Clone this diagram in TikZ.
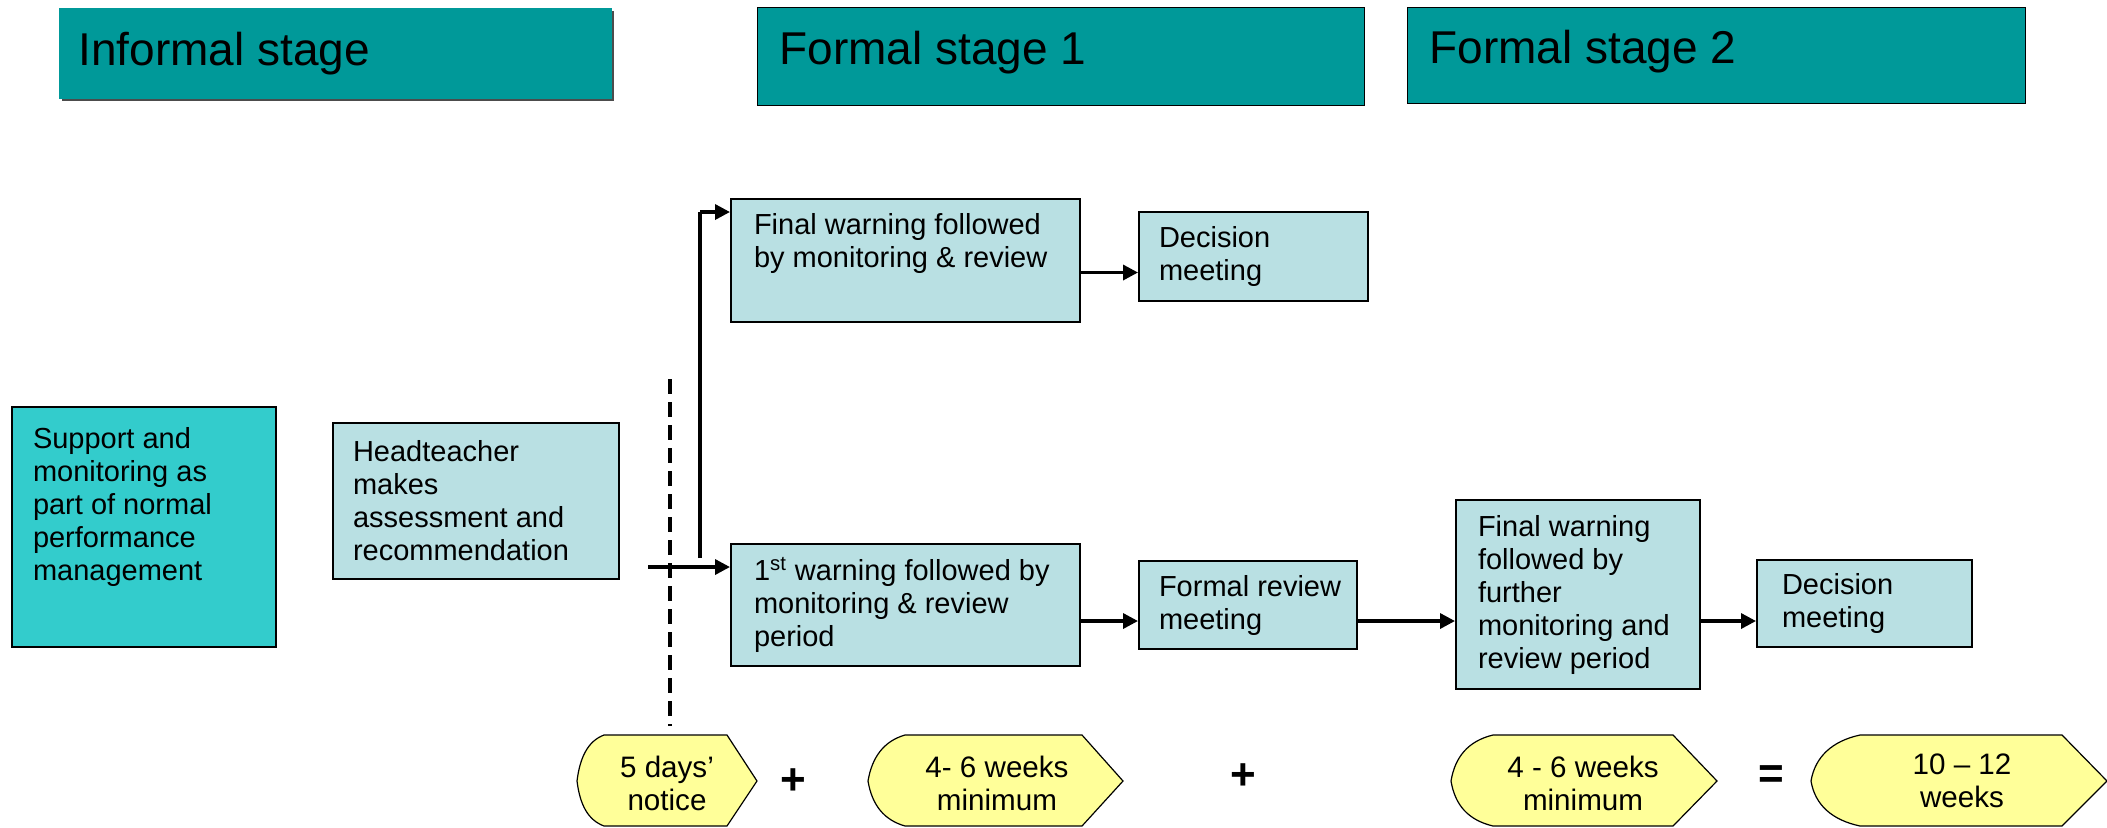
\documentclass[tikz,border=0pt]{standalone}
\usepackage{fontspec}
\setmainfont{Liberation Sans}
\usetikzlibrary{calc,arrows.meta}
\definecolor{hdr}{HTML}{009999}
\definecolor{supc}{HTML}{33CCCC}
\definecolor{ltc}{HTML}{B9E0E3}
\definecolor{yel}{HTML}{FFFF99}
% width, height, inner position, left pad, text
\newcommand\bxt[5]{\begin{minipage}[c][#2][#3]{#1}\raggedright\leftskip=#4\relax #5\end{minipage}}
\begin{document}
\begin{tikzpicture}[x=0.5pt,y=-0.5pt,
  hdrbox/.style={draw=black, line width=0.6pt, fill=hdr, anchor=north west, inner sep=0pt,
     font=\fontsize{23}{27}\selectfont},
  lbox/.style={draw=black, line width=1pt, fill=ltc, anchor=north west, inner sep=0pt,
     font=\fontsize{14.5}{16.5}\selectfont},
  arr/.style={line width=1.7pt, -{Triangle[length=7.5pt,width=7.5pt]}},
  plainline/.style={line width=1.7pt},
  yshape/.style={draw=black, line width=0.6pt, fill=yel},
  ytxt/.style={align=center, inner sep=0pt, font=\fontsize{14.8}{16.5}\selectfont},
  optxt/.style={inner sep=0pt, font=\fontsize{22}{26}\selectfont\bfseries},
  dashline/.style={line width=2pt, dash pattern=on 7.5pt off 4pt}]
\useasboundingbox (0,0) rectangle (2107,827);
% headers
\fill[black!70] (62,11) rectangle (614,101);
\node[hdrbox, draw=none, minimum width=276.5pt, minimum height=45.5pt] (hinf) at (58,7)
  {\bxt{276.5pt}{45.5pt}{c}{10pt}{Informal stage}};
\node[hdrbox, minimum width=303.5pt, minimum height=49pt] (hf1) at (757,7)
  {\bxt{303.5pt}{49pt}{t}{11pt}{\vspace*{12pt}Formal stage 1}};
\node[hdrbox, minimum width=309pt, minimum height=48pt] (hf2) at (1407,7)
  {\bxt{309pt}{48pt}{t}{11pt}{\vspace*{11.5pt}Formal stage 2}};
% boxes
\node[lbox, fill=supc, minimum width=132pt, minimum height=120pt] (sup) at (11,406)
  {\bxt{132pt}{120pt}{t}{10.5pt}{\vspace*{10pt}Support and\\monitoring as\\part of normal\\performance\\management}};
\node[lbox, minimum width=143pt, minimum height=78pt] (hd) at (332,422)
  {\bxt{143pt}{78pt}{c}{10pt}{Headteacher\\makes\\assessment and\\recommendation}};
\node[lbox, minimum width=174.5pt, minimum height=61.5pt] (fw1) at (730,198)
  {\bxt{174.5pt}{61.5pt}{t}{11.5pt}{\vspace*{7pt}Final warning followed\\by monitoring \& review}};
\node[lbox, minimum width=114.5pt, minimum height=44.5pt] (dec1) at (1138,211)
  {\bxt{114.5pt}{44.5pt}{c}{10pt}{Decision\\meeting}};
\node[lbox, minimum width=174.5pt, minimum height=61pt] (w1) at (730,543)
  {\bxt{174.5pt}{61pt}{c}{11.5pt}{1\textsuperscript{st} warning followed by\\monitoring \& review\\period}};
\node[lbox, minimum width=109pt, minimum height=44pt] (frm) at (1138,560)
  {\bxt{109pt}{44pt}{c}{10pt}{Formal review\\meeting}};
\node[lbox, minimum width=122pt, minimum height=94.5pt] (fw2) at (1455,499)
  {\bxt{122pt}{94.5pt}{c}{11pt}{Final warning\\followed by\\further\\monitoring and\\review period}};
\node[lbox, minimum width=107.5pt, minimum height=43.5pt] (dec2) at (1756,559)
  {\bxt{107.5pt}{43.5pt}{c}{12.5pt}{Decision\\meeting}};
% dashed divider
\coordinate (dtop) at (670,379);
\coordinate (dbot) at (670,726);
\draw[dashline] (dtop) -- (dbot);
% connectors
\coordinate (s) at (648,567);
\coordinate (b) at (700,558);
\coordinate (t) at (700,212);
\draw[arr] (s) -- (s -| w1.west);
\draw[plainline] (b) -- (t);
\draw[arr] (t) -- (t -| fw1.west);
\coordinate (q) at ($(fw1.east)+(0,12)$);
\draw[arr] (q) -- (q -| dec1.west);
\coordinate (r) at (0,621);
\draw[arr] (r -| w1.east) -- (r -| frm.west);
\draw[arr] (r -| frm.east) -- (r -| fw2.west);
\draw[arr] (r -| fw2.east) -- (r -| dec2.west);
% yellow duration shapes
\draw[yshape] (604,735) -- (727,735) -- (757,781) -- (727,826) -- (604,826)
  .. controls (588,820) and (580,805) .. (577,781) .. controls (580,757) and (588,741) .. cycle;
\draw[yshape] (905,735) -- (1082,735) -- (1123,781) -- (1082,826) -- (905,826)
  .. controls (884,820) and (872,805) .. (868,781) .. controls (872,757) and (884,741) .. cycle;
\draw[yshape] (1493,735) -- (1673,735) -- (1717,781) -- (1673,826) -- (1493,826)
  .. controls (1468,820) and (1455,805) .. (1451,781) .. controls (1455,757) and (1468,741) .. cycle;
\draw[yshape] (1860,735) -- (2062,735) -- (2107,781) -- (2062,826) -- (1860,826)
  .. controls (1832,820) and (1815,805) .. (1811,781) .. controls (1815,757) and (1832,741) .. cycle;
\node[ytxt] (y1) at (667,783) {5 days’\\notice};
\node[ytxt] (y2) at (997,783) {4- 6 weeks\\minimum};
\node[ytxt] (y3) at (1583,783) {4 - 6 weeks\\minimum};
\node[ytxt] (y4) at (1962,781) {10 – 12\\weeks};
\node[optxt] (p1) at (793,782) {+};
\node[optxt] (p2) at (1243,777) {+};
\node[optxt] (eq) at (1771,777) {=};
\end{tikzpicture}
\end{document}
